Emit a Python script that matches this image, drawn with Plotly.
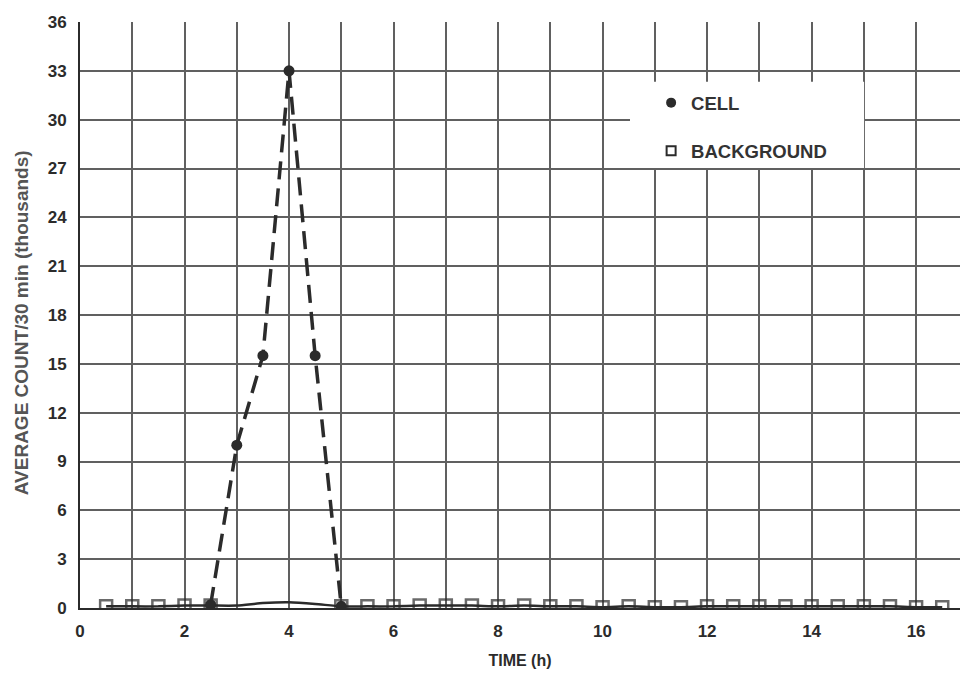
import plotly.graph_objects as go

# Cell counts (thousands) around the peak
cell_t = [2.5, 3.0, 3.5, 4.0, 4.5, 5.0]
cell_count = [0.2, 10.0, 15.5, 33.0, 15.5, 0.1]

# Background counts (thousands) every half hour
bg_t = [0.5, 1.0, 1.5, 2.0, 2.5, 3.0, 3.5, 4.0, 4.5, 5.0, 5.5, 6.0, 6.5, 7.0, 7.5,
        8.0, 8.5, 9.0, 9.5, 10.0, 10.5, 11.0, 11.5, 12.0, 12.5, 13.0, 13.5,
        14.0, 14.5, 15.0, 15.5, 16.0, 16.5]
bg_count = [0.1, 0.1, 0.1, 0.15, 0.15, 0.15, 0.3, 0.35, 0.25, 0.1, 0.1, 0.1, 0.15,
            0.15, 0.15, 0.1, 0.15, 0.1, 0.1, 0.05, 0.1, 0.05, 0.05, 0.1, 0.1, 0.1,
            0.1, 0.1, 0.1, 0.1, 0.1, 0.05, 0.05]
# points between 3 h and 4.5 h are drawn as line only
bg_marked = [not (2.9 < t < 4.6) for t in bg_t]

x_ticks = [0, 2, 4, 6, 8, 10, 12, 14, 16]
y_ticks = [0, 3, 6, 9, 12, 15, 18, 21, 24, 27, 30, 33, 36]

INK = "#2b2b2b"
GRID = "#606060"
FONT = "Liberation Sans"

fig = go.Figure()

fig.add_trace(go.Scatter(
    x=bg_t, y=bg_count, mode="lines+markers", showlegend=False,
    line=dict(color=INK, width=2.5, shape="spline", smoothing=0.6),
    marker=dict(symbol="square-open", size=[12 if m else 0 for m in bg_marked],
                color=INK, line=dict(width=2.5, color=INK)),
))

fig.add_trace(go.Scatter(
    x=cell_t, y=cell_count, mode="lines+markers", showlegend=False,
    line=dict(color=INK, width=3.5, dash="18px,9px"),
    marker=dict(symbol="circle", size=11, color=INK),
))

# legend keys: symbols only
fig.add_trace(go.Scatter(
    x=[None], y=[None], mode="markers", name="CELL",
    marker=dict(symbol="circle", size=10, color=INK),
    legendgroup="a", legendrank=1,
))
fig.add_trace(go.Scatter(
    x=[None], y=[None], mode="markers", name="BACKGROUND",
    marker=dict(symbol="square-open", size=9, color=INK, line=dict(width=2, color=INK)),
    legendgroup="b", legendrank=2,
))

# white panel behind the legend, covering the grid
fig.add_shape(type="rect", xref="paper", yref="paper",
              x0=0.625, x1=0.891, y0=0.751, y1=0.898,
              fillcolor="white", line_width=0, layer="above")

# vertical axis title
fig.add_annotation(
    text="AVERAGE COUNT/30 min (thousands)", textangle=-90,
    xref="paper", yref="paper", x=-0.067, y=0.486,
    xanchor="center", yanchor="middle", showarrow=False,
    font=dict(size=19, family=FONT, color="#555555", weight="bold"),
)

fig.update_layout(
    width=960, height=675,
    margin=dict(l=80, r=0, t=22, b=67),
    paper_bgcolor="white", plot_bgcolor="white",
    font=dict(family=FONT, color=INK),
    legend=dict(
        x=0.649, y=0.894, xanchor="left", yanchor="top",
        bgcolor="rgba(0,0,0,0)", borderwidth=0,
        font=dict(size=18.5, family=FONT, color="#333333", weight="bold"),
        tracegroupgap=21, traceorder="grouped",
    ),
    xaxis=dict(
        range=[0, 16.84],
        tickvals=list(range(0, 17)),
        ticktext=[str(v) if v in x_ticks else "" for v in range(0, 17)],
        showgrid=True, gridcolor=GRID, gridwidth=1.6,
        showline=True, linecolor=INK, linewidth=2,
        ticks="", ticklabelstandoff=7,
        tickfont=dict(size=17, family=FONT, color=INK, weight="bold"),
        title=dict(text="TIME (h)", font=dict(size=16, family=FONT, color=INK, weight="bold"),
                   standoff=14),
        zeroline=False,
    ),
    yaxis=dict(
        range=[0, 36], tickvals=y_ticks,
        showgrid=True, gridcolor=GRID, gridwidth=1.6,
        showline=True, linecolor=INK, linewidth=2,
        ticks="", ticklabelstandoff=8,
        tickfont=dict(size=17, family=FONT, color=INK, weight="bold"),
        zeroline=False,
    ),
)

fig.write_html("out.html")
